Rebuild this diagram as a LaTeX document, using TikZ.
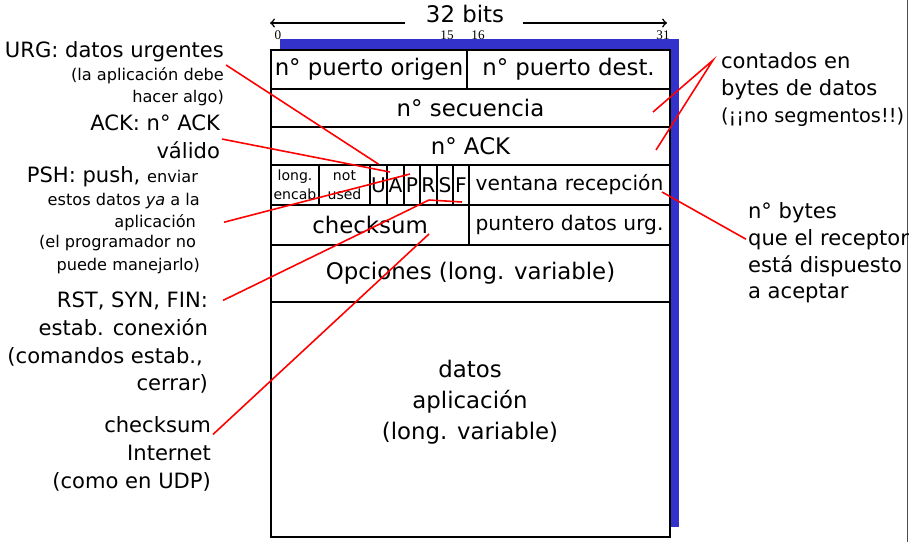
\documentclass[tikz,border=0pt]{standalone}
\usepackage{fontspec}
\setmainfont{DejaVu Sans}
\newfontfamily\tickfont{Liberation Serif}
\definecolor{shadowblue}{RGB}{51,51,204}

\tikzset{
  field/.style={draw, line width=1pt, fill=white, inner sep=0pt, font=\fontsize{13}{15}\selectfont},
  flag/.style={field, minimum height=0.8cm, font=\fontsize{11.5}{13}\selectfont},
  note/.style={inner sep=1pt, font=\fontsize{12}{14}\selectfont},
  small/.style={inner sep=1pt, font=\fontsize{9.2}{11}\selectfont},
  tick/.style={inner sep=0pt, font=\tickfont\fontsize{7.5}{8}\selectfont},
  leader/.style={red, line width=0.9pt},
}

\begin{document}
\begin{tikzpicture}[x=0.02cm, y=-0.02cm]
  \useasboundingbox (0,0) rectangle (911,542);
  \draw[gray!60!black, line width=0.8pt] (907.5,0) -- (907.5,542);

  % width of the header
  \node[font=\fontsize{13}{15}\selectfont, inner sep=0pt] (bits) at (465,14) {32 bits};
  \coordinate (bitsL) at (270,23);
  \coordinate (bitsR) at (667,23);
  \draw[->, line width=0.9pt] ([xshift=-0.42cm]bits.west |- bitsL) -- (bitsL);
  \draw[->, line width=0.9pt] ([xshift=0.38cm]bits.east |- bitsR) -- (bitsR);
  \node[tick] (t0) at (278,35) {0};
  \node[tick] (t15) at (447,35) {15};
  \node[tick] (t16) at (478,35) {16};
  \node[tick] (t31) at (663,35) {31};

  % shadow
  \fill[shadowblue] (280,39) rectangle (679,527);

  % fields
  \node[field, minimum width=3.92cm, minimum height=0.78cm] (srcport) at (369,69.5) {n° puerto origen};
  \node[field, minimum width=4.06cm, minimum height=0.78cm] (dstport) at (568.5,69.5) {n° puerto dest.};
  \node[field, minimum width=7.98cm, minimum height=0.76cm] (seqno) at (470.5,108) {n° secuencia};
  \node[field, minimum width=7.98cm, minimum height=0.76cm] (ackno) at (470.5,146) {n° ACK};
  \node[field, minimum width=0.96cm, minimum height=0.8cm, align=center, font=\fontsize{8}{11}\selectfont] (hlen) at (295,185) {long.\\encab};
  \node[field, minimum width=1.02cm, minimum height=0.8cm, align=center, font=\fontsize{8}{11}\selectfont] (unused) at (344.5,185) {not\\used};
  \node[flag, minimum width=0.34cm] (flagU) at (378.5,185) {U};
  \node[flag, minimum width=0.34cm] (flagA) at (395.5,185) {A};
  \node[flag, minimum width=0.32cm] (flagP) at (412,185) {P};
  \node[flag, minimum width=0.34cm] (flagR) at (428.5,185) {R};
  \node[flag, minimum width=0.32cm] (flagS) at (445,185) {S};
  \node[flag, minimum width=0.32cm] (flagF) at (461,185) {F};
  \node[field, minimum width=4.02cm, minimum height=0.8cm, font=\fontsize{11.5}{13}\selectfont] (window) at (569.5,185) {ventana recepción};
  \node[field, minimum width=3.96cm, minimum height=0.8cm] (checksum) at (370,225) {checksum};
  \node[field, minimum width=4.02cm, minimum height=0.8cm, font=\fontsize{11.5}{13}\selectfont] (urgptr) at (569.5,225) {puntero datos urg.};
  \node[field, minimum width=7.98cm, minimum height=1.14cm] (options) at (470.5,273.5) {Opciones (long. variable)};
  \node[field, minimum width=7.98cm, minimum height=4.7cm] (data) at (470.5,419.5) {};
  \node[align=center, font=\fontsize{13}{17.5}\selectfont] (datatext) at (470,402) {datos\\aplicación\\(long. variable)};

  % notes on the left
  \node[note, anchor=base east] (urg1) at (226,57) {URG: datos urgentes};
  \node[small, anchor=base east] (urg2) at (226,80) {(la aplicación debe};
  \node[small, anchor=base east] (urg3) at (226,102) {hacer algo)};
  \node[note, anchor=base east] (ackf1) at (222,130) {ACK: n° ACK};
  \node[note, anchor=base east] (ackf2) at (222,158) {válido};
  \node[note, anchor=base east] (psh1) at (200,182) {PSH: push, {\fontsize{9.2}{11}\selectfont enviar}};
  \node[small, anchor=base east] (psh2) at (202,205) {estos datos \textit{ya} a la};
  \node[small, anchor=base east] (psh3) at (198,227) {aplicación};
  \node[small, anchor=base east] (psh4) at (198,247) {(el programador no};
  \node[small, anchor=base east] (psh5) at (202,270) {puede manejarlo)};
  \node[note, anchor=base east] (rst1) at (210,307) {RST, SYN, FIN:};
  \node[note, anchor=base east] (rst2) at (210,335) {estab. conexión};
  \node[note, anchor=base east] (rst3) at (205,363) {(comandos estab.,};
  \node[note, anchor=base east] (rst4) at (210,390) {cerrar)};
  \node[note, anchor=base east] (cks1) at (213,432) {checksum};
  \node[note, anchor=base east] (cks2) at (213,460) {Internet};
  \node[note, anchor=base east] (cks3) at (213,488) {(como en UDP)};

  % notes on the right
  \node[note, anchor=base west] (cnt1) at (719,68) {contados en};
  \node[note, anchor=base west] (cnt2) at (719,95) {bytes de datos};
  \node[note, anchor=base west, font=\fontsize{11}{13}\selectfont] (cnt3) at (719,122) {(¡¡no segmentos!!)};
  \node[note, anchor=base west] (win1) at (746,218) {n° bytes};
  \node[note, anchor=base west] (win2) at (746,245) {que el receptor};
  \node[note, anchor=base west] (win3) at (746,272) {está dispuesto};
  \node[note, anchor=base west] (win4) at (746,298) {a aceptar};

  % leaders
  \coordinate (ackpt) at (390,172);
  \coordinate (pshpt) at (410,174);
  \coordinate (rstmid) at (429,200);
  \coordinate (rstpt) at (462,202);
  \coordinate (ckspt) at (429,234);
  \coordinate (seqpt) at (653,112);
  \coordinate (acknopt) at (656,150);
  \coordinate (winpt) at (662,192);
  \draw[leader] (urg2.north east) -- (flagU.north);
  \draw[leader] (ackf2.north east) -- (ackpt);
  \draw[leader] ([xshift=0.52cm]psh3.east) -- (pshpt);
  \draw[leader] ([xshift=0.26cm]rst1.east) -- (rstmid) -- (rstpt);
  \draw[leader] (cks1.south east) -- (ckspt);
  \draw[leader] (seqpt) -- ([xshift=-0.12cm]cnt1.west) -- (acknopt);
  \draw[leader] (winpt) -- (win2.west);
\end{tikzpicture}
\end{document}
